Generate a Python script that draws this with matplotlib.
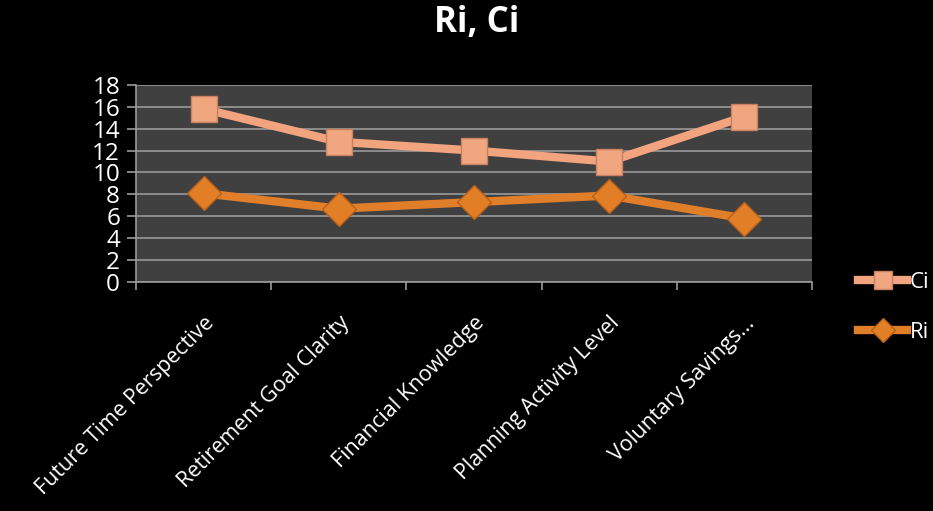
import matplotlib.pyplot as plt
import numpy as np

categories = ["Future Time Perspective", "Retirement Goal Clarity", "Financial Knowledge",
              "Planning Activity Level", "Voluntary Savings..."]
ci = [15.8, 12.8, 12.0, 11.0, 15.1]
ri = [8.1, 6.7, 7.3, 7.9, 5.8]
yticks = [0, 2, 4, 6, 8, 10, 12, 14, 16, 18]

plt.rcParams['font.family'] = ['Open Sans', 'DejaVu Sans']

fig = plt.figure(figsize=(9.33, 5.11), dpi=100, facecolor="black")
ax = fig.add_axes([0.1458, 0.448, 0.7245, 0.386])
ax.set_facecolor("#404040")

x = np.arange(len(categories))
ax.plot(x, ci, color="#F2A47F", lw=6, marker="s", markersize=19,
        markerfacecolor="#F0A67E", markeredgecolor="#C88060", markeredgewidth=1, label="Ci", zorder=3)
ax.plot(x, ri, color="#E07E2A", lw=6, marker="D", markersize=17,
        markerfacecolor="#E27E26", markeredgecolor="#B86018", markeredgewidth=1, label="Ri", zorder=3)

ax.set_xlim(-0.5, len(categories) - 0.5)
ax.set_ylim(0, 18)
ax.set_yticks(yticks)
ax.set_yticklabels([str(v) for v in yticks], color="white", fontsize=17.5)
ax.grid(axis="y", color="#9a9a9a", lw=1.2)
ax.set_axisbelow(True)

ax.set_xticks(x)
ax.set_xticklabels(categories, rotation=45, ha="right", rotation_mode="anchor",
                   color="white", fontsize=15.5)
ax.set_xticks(np.arange(len(categories) + 1) - 0.5, minor=True)
ax.tick_params(axis="x", which="major", length=0, pad=22)
ax.tick_params(axis="x", which="minor", length=6, color="#9a9a9a", width=1.2)
ax.tick_params(axis="y", length=6.5, color="#9a9a9a", width=1.2, pad=5)

for s in ["top", "right"]:
    ax.spines[s].set_visible(False)
for s in ["left", "bottom"]:
    ax.spines[s].set_color("#9a9a9a")
    ax.spines[s].set_linewidth(1.2)

fig.text(0.511, 0.955, "Ri, Ci", color="white", fontsize=25, fontweight="bold",
         ha="center", va="center")

leg = ax.legend(loc="center left", bbox_to_anchor=(1.039, -0.13), frameon=False,
                fontsize=16, labelcolor="white", handlelength=2.2, labelspacing=1.3,
                handletextpad=0.1, markerscale=0.7)

fig.savefig("out.png", dpi=100, facecolor="black")
